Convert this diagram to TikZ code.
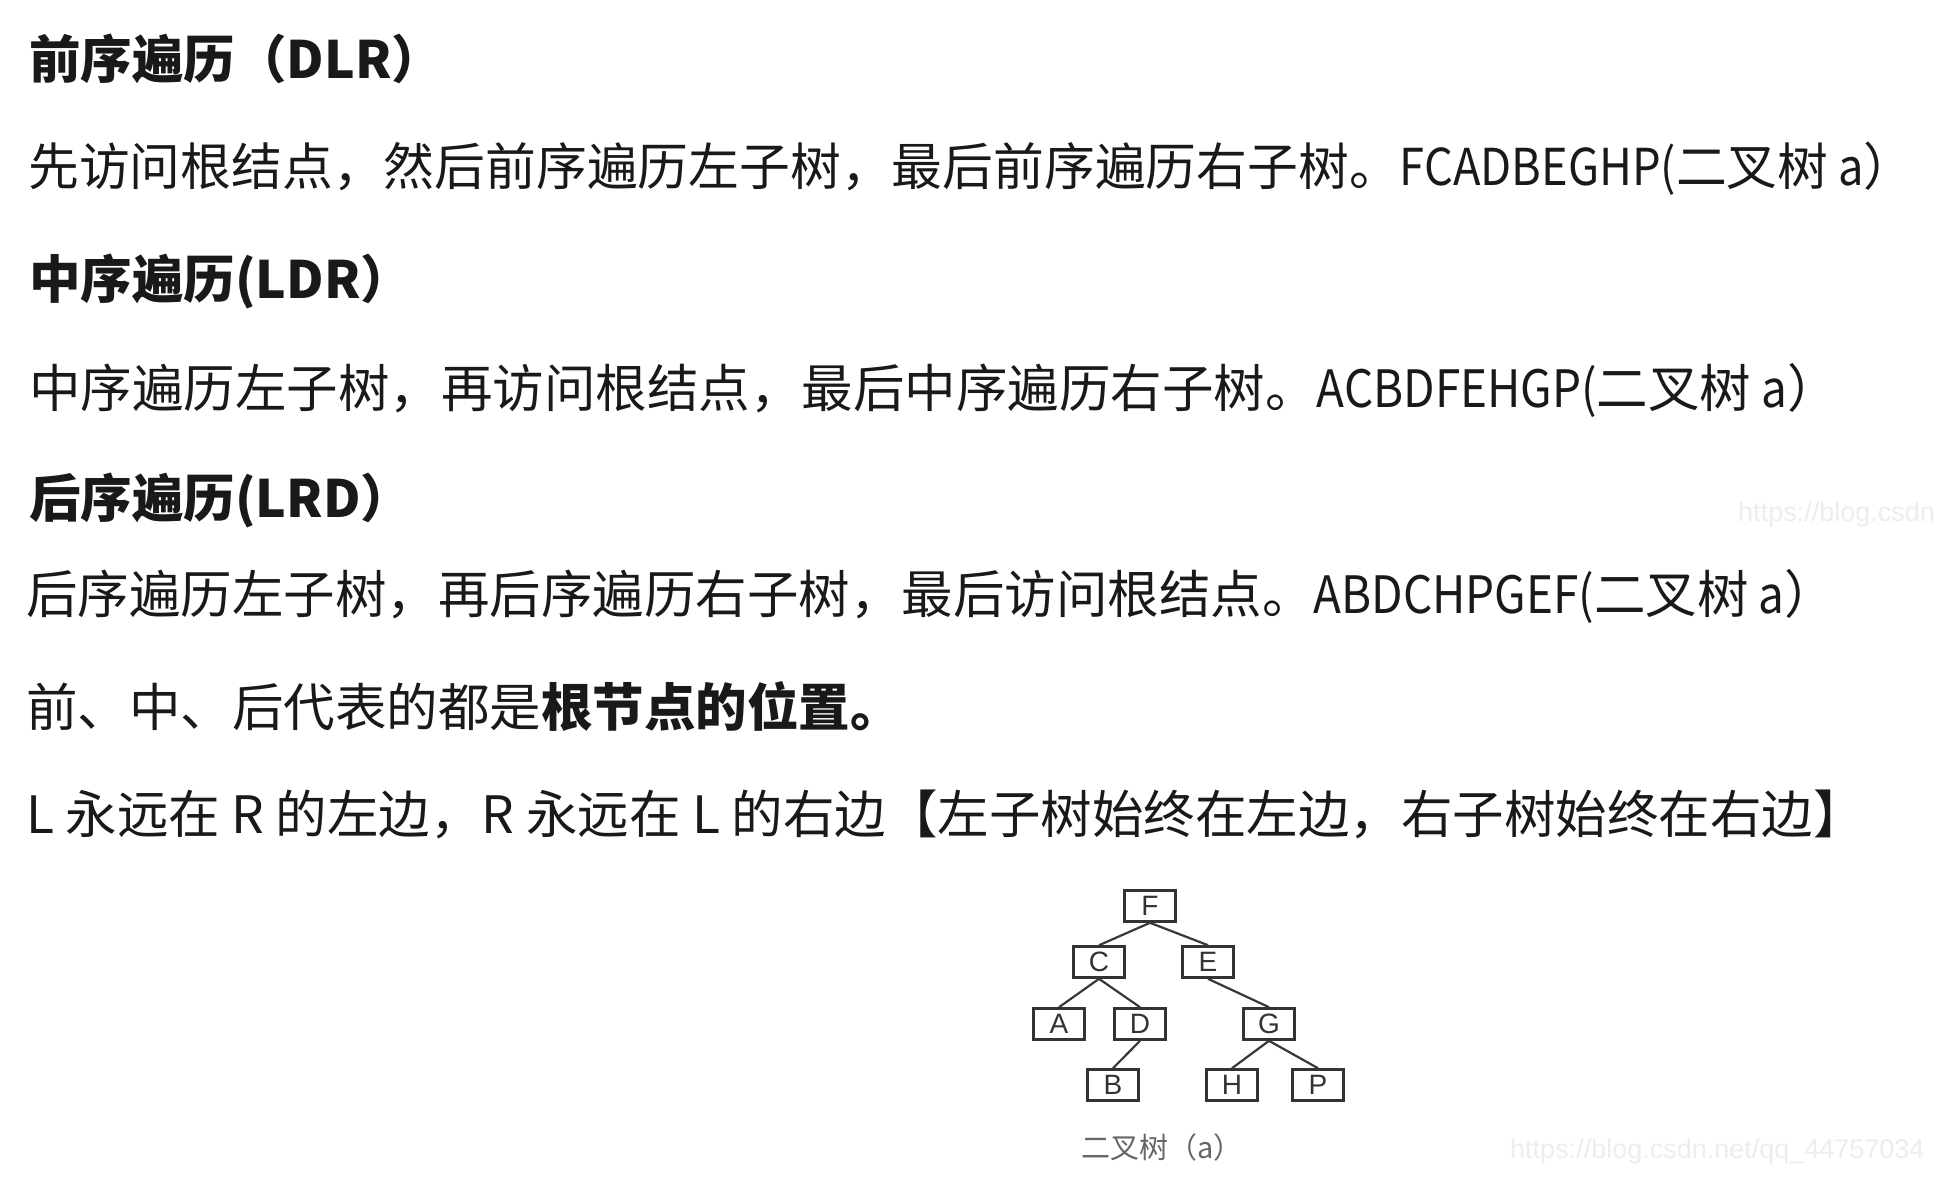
\documentclass[tikz,border=0pt]{standalone}
\usepackage{fontspec}
\setmainfont{Noto Sans CJK SC}
\newfontfamily\latnfont[FakeStretch=0.89]{Noto Sans CJK SC}
\newcommand\latn[1]{{\latnfont #1}}
\newfontfamily\wmfont{Liberation Sans}
\newfontfamily\treefont{Liberation Sans}
\begin{document}
\begin{tikzpicture}[x=1pt,y=-1pt,
  txt/.style={anchor=west,inner sep=0pt,text=black!90,font=\fontsize{51.5}{60}\selectfont},
  hd/.style={txt,font=\fontsize{51.5}{60}\selectfont\bfseries},
  tbox/.style={draw=black!80,line width=2.6pt,minimum width=51pt,minimum height=31pt,inner sep=0pt,font=\treefont\fontsize{28}{30}\selectfont,text=black!80},
  tedge/.style={draw=black!78,line width=2.2pt},
  wm/.style={anchor=west,inner sep=0pt,text=black!7,font=\wmfont\fontsize{27}{30}\selectfont}]
\useasboundingbox (0,0) rectangle (1934,1202);
\fill[white] (0,0) rectangle (1934,1202);

\node[hd]  (l1) at (29,59)  {前序遍历（DLR）};
\node[txt,font=\fontsize{50.8}{60}\selectfont] (l2) at (28,169) {先访问根结点，然后前序遍历左子树，最后前序遍历右子树。\latn{FCADBEGHP(}二叉树\latn{ a}）};
\node[hd]  (l3) at (29,281) {中序遍历(LDR）};
\node[txt] (l4) at (29,390) {中序遍历左子树，再访问根结点，最后中序遍历右子树。\latn{ACBDFEHGP(}二叉树\latn{ a}）};
\node[hd]  (l5) at (29,500) {后序遍历(LRD）};
\node[txt] (l6) at (26,596) {后序遍历左子树，再后序遍历右子树，最后访问根结点。\latn{ABDCHPGEF(}二叉树\latn{ a}）};
\node[txt] (l7) at (26,707) {前、中、后代表的都是\textbf{根节点的位置。}};
\node[txt] (l8) at (26,814) {L 永远在 R 的左边，R 永远在 L 的右边【左子树始终在左边，右子树始终在右边】};

\node[tbox] (F) at (1150,906) {F};
\node[tbox] (C) at (1099,962) {C};
\node[tbox] (E) at (1208,962) {E};
\node[tbox] (A) at (1059,1024) {A};
\node[tbox] (D) at (1140,1024) {D};
\node[tbox] (G) at (1269,1024) {G};
\node[tbox] (B) at (1113,1085) {B};
\node[tbox] (H) at (1232,1085) {H};
\node[tbox] (P) at (1318,1085) {P};
\draw[tedge] (F.south) -- (C.north);
\draw[tedge] (F.south) -- (E.north);
\draw[tedge] (C.south) -- (A.north);
\draw[tedge] (C.south) -- (D.north);
\draw[tedge] (D.south) -- (B.north);
\draw[tedge] (E.south) -- (G.north);
\draw[tedge] (G.south) -- (H.north);
\draw[tedge] (G.south) -- (P.north);
\node[inner sep=0pt,text=black!60,font=\fontsize{29}{32}\selectfont] (cap) at (1162,1147) {二叉树（a）};

\node[wm] (w1) at (1738,515) {https://blog.csdn};
\node[wm] (w2) at (1510,1152) {https://blog.csdn.net/qq\_44757034};
\end{tikzpicture}
\end{document}
